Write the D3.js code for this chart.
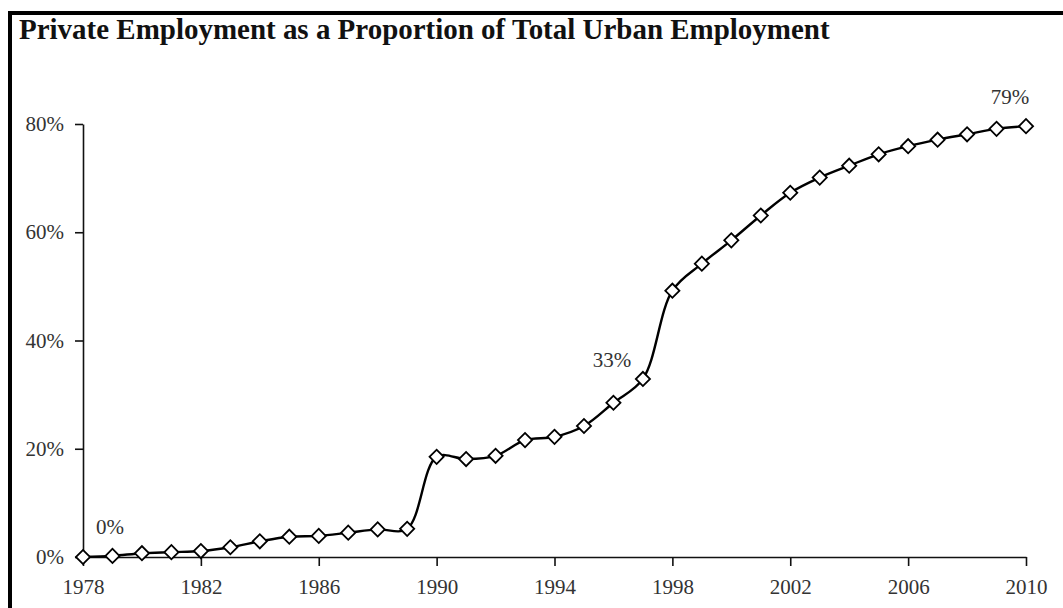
<!DOCTYPE html>
<html>
<head>
<meta charset="utf-8">
<script src="https://cdn.jsdelivr.net/npm/d3@7"></script>
<style>
  html, body { margin: 0; padding: 0; background: #fff; }
  svg { display: block; }
</style>
</head>
<body>
<svg id="chart" width="1063" height="608"></svg>
<script>
const titleText = "Private Employment as a Proportion of Total Urban Employment";
const years = [1978,1979,1980,1981,1982,1983,1984,1985,1986,1987,1988,1989,1990,1991,1992,1993,1994,1995,1996,1997,1998,1999,2000,2001,2002,2003,2004,2005,2006,2007,2008,2009,2010];
const shares = [0.0,0.2,0.7,0.9,1.1,1.8,2.9,3.75,3.9,4.5,5.1,5.2,18.5,18.1,18.7,21.6,22.2,24.2,28.5,32.9,49.2,54.2,58.5,63.1,67.3,70.1,72.3,74.4,75.9,77.1,78.1,79.1,79.6];
const xTicks = [1978,1982,1986,1990,1994,1998,2002,2006,2010];
const yTicks = [0,20,40,60,80];
const annotations = [
  {year: 1978, value: 0.0, label: "0%", dx: 27, dy: -30},
  {year: 1997, value: 32.9, label: "33%", dx: -31, dy: -19},
  {year: 2010, value: 79.6, label: "79%", dx: -16, dy: -29}
];

const svg = d3.select("#chart");
const W = 1063, H = 608;

// frame
svg.append("line").attr("x1", 8).attr("x2", W).attr("y1", 13).attr("y2", 13)
  .attr("stroke", "#000").attr("stroke-width", 4);
svg.append("line").attr("x1", 10).attr("x2", 10).attr("y1", 11).attr("y2", H)
  .attr("stroke", "#000").attr("stroke-width", 4);

// title
const title = svg.append("text").attr("x", 19).attr("y", 39)
  .attr("font-family", "'Liberation Serif', 'Times New Roman', serif")
  .attr("font-weight", "bold").attr("font-size", 24).attr("fill", "#111")
  .text(titleText);
const tw = title.node().getComputedTextLength();
title.attr("font-size", 24 * 811 / tw);

const x = d3.scaleLinear().domain([1978, 2010]).range([83, 1026]);
const y = d3.scaleLinear().domain([0, 80]).range([557, 124]);

const fontFam = "'Liberation Serif', 'Times New Roman', serif";
const fs = 21;

const xAxis = svg.append("g").attr("transform", "translate(0,557)")
  .call(d3.axisBottom(x).tickValues(xTicks).tickFormat(d3.format("d")).tickSize(9).tickSizeOuter(0).tickPadding(13));
const yAxis = svg.append("g").attr("transform", "translate(83,0)")
  .call(d3.axisLeft(y).tickValues(yTicks).tickFormat(d => d + "%").tickSize(8).tickSizeOuter(0).tickPadding(11));

[xAxis, yAxis].forEach(g => {
  g.select(".domain").attr("stroke", "#111").attr("stroke-width", 1.6);
  g.selectAll(".tick line").attr("stroke", "#111").attr("stroke-width", 1.6);
  g.selectAll(".tick text").attr("font-family", fontFam).attr("font-size", fs).attr("fill", "#333");
});

const data = years.map((yr, i) => ({year: yr, value: shares[i]}));

const line = d3.line().x(d => x(d.year)).y(d => y(d.value)).curve(d3.curveCatmullRom.alpha(0.5));
svg.append("path").datum(data).attr("d", line)
  .attr("fill", "none").attr("stroke", "#000").attr("stroke-width", 2.4);

const sym = d3.symbol().type(d3.symbolSquare).size(100);
svg.append("g").selectAll("path").data(data).join("path")
  .attr("d", sym)
  .attr("transform", d => `translate(${x(d.year)},${y(d.value)}) rotate(45)`)
  .attr("fill", "#fff").attr("stroke", "#000").attr("stroke-width", 1.8);

svg.append("g").selectAll("text").data(annotations).join("text")
  .attr("x", d => x(d.year) + d.dx)
  .attr("y", d => y(d.value) + d.dy)
  .attr("text-anchor", "middle")
  .attr("dominant-baseline", "central")
  .attr("font-family", fontFam).attr("font-size", fs).attr("fill", "#333")
  .text(d => d.label);
</script>
</body>
</html>
